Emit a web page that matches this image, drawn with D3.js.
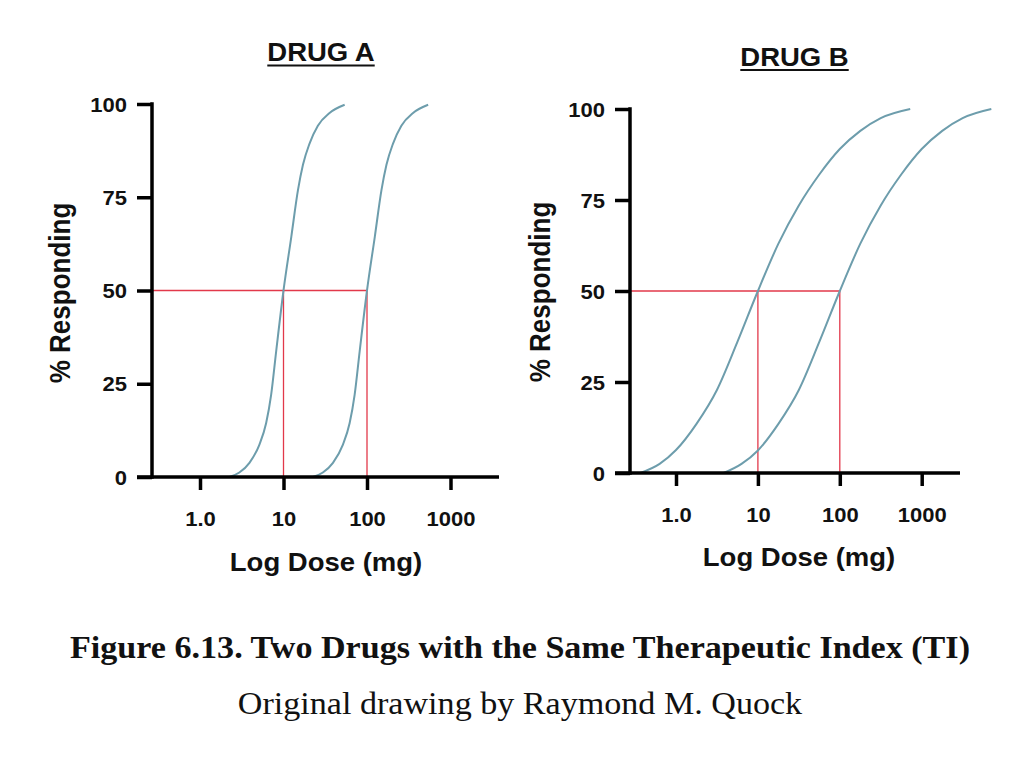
<!DOCTYPE html>
<html><head><meta charset="utf-8">
<script src="https://cdn.jsdelivr.net/npm/d3@7/dist/d3.min.js"></script>
<style>
html,body{margin:0;padding:0;background:#fff;}
svg{display:block;}
</style></head>
<body>
<svg id="chart" width="1024" height="757"></svg>
<script>
// ---------- data ----------
const doseTicks = [1, 10, 100, 1000];
const doseTickLabels = ["1.0", "10", "100", "1000"];
const pctTicks = [0, 25, 50, 75, 100];
const pctTickLabels = ["0", "25", "50", "75", "100"];
const chartTitles = ["DRUG A", "DRUG B"];
const xAxisTitle = "Log Dose (mg)";
const yAxisTitle = "% Responding";
const figureTitle = "Figure 6.13. Two Drugs with the Same Therapeutic Index (TI)";
const figureCredit = "Original drawing by Raymond M. Quock";
const ed50Doses = [10, 100];
const refPct = 50;

// Drug A: steep curves (dose in mg, % responding)
const drugA1Dose = [2.25, 2.96, 3.91, 5.15, 6.19, 7.11, 8.17, 10, 12.4, 14.9, 17.1, 20.5, 25.8, 35.6, 54.0];
const drugA1Pct  = [0, 1.2, 3.8, 8.7, 14.4, 22, 33.7, 50, 64.4, 76.9, 83.7, 89.4, 94.2, 97.6, 99.8];
const drugA2Dose = [22.5, 29.6, 39.1, 51.5, 61.9, 71.1, 81.7, 100, 124, 149, 171, 205, 258, 356, 540];
const drugA2Pct  = [0, 1.2, 3.8, 8.7, 14.4, 22, 33.7, 50, 64.4, 76.9, 83.7, 89.4, 94.2, 97.6, 99.8];
// Drug B: shallow curves
const drugB1Dose = [0.367, 0.631, 1.0, 1.78, 3.16, 5.62, 10, 17.8, 31.6, 56.2, 100, 178, 316, 724];
const drugB1Pct  = [0, 2.5, 6.3, 13.5, 22.8, 36, 50, 63, 73.5, 82, 89, 94, 97.5, 100];
const drugB2Dose = [3.81, 6.31, 10, 17.8, 31.6, 56.2, 100, 178, 316, 562, 1000, 1780, 3160, 7080];
const drugB2Pct  = [0, 2.5, 6.2, 13.5, 22.8, 36, 50, 63, 73.5, 82, 89, 94, 97.5, 100];

// ---------- layout ----------
const SX = 1.1; // horizontal stretch of the original artwork
const panels = [
  {title: chartTitles[0], titleX: 321, titleY: 61, axX: 152, axEnd: 499, yTop: 104, yBot: 477, x1: 200, x1000: 450.5,
   xTitleX: 326, xTitleY: 571, yTitleX: 70, yTitleY: 293,
   curves: [[drugA1Dose, drugA1Pct], [drugA2Dose, drugA2Pct]]},
  {title: chartTitles[1], titleX: 794.5, titleY: 65.5, axX: 630, axEnd: 960, yTop: 109, yBot: 473, x1: 676, x1000: 921.7,
   xTitleX: 799, xTitleY: 566, yTitleX: 550, yTitleY: 292,
   curves: [[drugB1Dose, drugB1Pct], [drugB2Dose, drugB2Pct]]}
];

const svg = d3.select("#chart");
const FONT = "'Liberation Sans', Arial, sans-serif";
const SERIF = "'Liberation Serif', 'Times New Roman', serif";
const curveColor = "#6d9dac";
const redColor = "#e2384a";

function addText(g, str, x, y, size, weight, family, anchor, extra) {
  return g.append("text")
    .attr("transform", `translate(${x},${y}) scale(${SX},1)` + (extra || ""))
    .attr("text-anchor", anchor || "middle")
    .style("font-family", family).style("font-size", size + "px").style("font-weight", weight)
    .attr("fill", "#111")
    .text(str);
}

panels.forEach(p => {
  const g = svg.append("g");
  const x = d3.scaleLog().domain([1, 1000]).range([p.x1, p.x1000]);
  const y = d3.scaleLinear().domain([0, 100]).range([p.yBot, p.yTop]);

  // title
  const t = addText(g, p.title, p.titleX, p.titleY, 25, "bold", FONT);
  const bb = t.node().getBBox();
  const w = bb.width * SX;
  g.append("line").attr("x1", p.titleX - w / 2).attr("x2", p.titleX + w / 2)
    .attr("y1", p.titleY + 4.5).attr("y2", p.titleY + 4.5)
    .attr("stroke", "#111").attr("stroke-width", 2.2);

  // red reference lines
  g.append("line").attr("x1", p.axX).attr("x2", x(ed50Doses[1]))
    .attr("y1", y(refPct)).attr("y2", y(refPct))
    .attr("stroke", redColor).attr("stroke-width", 1.3);
  ed50Doses.forEach(d => {
    g.append("line").attr("x1", x(d)).attr("x2", x(d))
      .attr("y1", y(refPct)).attr("y2", y(0))
      .attr("stroke", redColor).attr("stroke-width", 1.3);
  });

  // curves
  const line = d3.line().x(d => x(d[0])).y(d => y(d[1])).curve(d3.curveMonotoneX);
  p.curves.forEach(([doses, pcts]) => {
    const pts = doses.map((d, i) => [d, pcts[i]]);
    g.append("path").attr("d", line(pts)).attr("fill", "none")
      .attr("stroke", curveColor).attr("stroke-width", 2);
  });

  // x axis
  const xa = g.append("g").attr("transform", `translate(0,${p.yBot})`)
    .call(d3.axisBottom(x).tickValues(doseTicks).tickSize(13).tickSizeOuter(0)
      .tickFormat((d, i) => doseTickLabels[i]));
  xa.select(".domain").remove();
  xa.selectAll(".tick line").attr("stroke", "#000").attr("stroke-width", 3.5);
  xa.selectAll(".tick text").attr("y", 0).attr("dy", 0)
    .attr("transform", `translate(0,49) scale(${SX},1)`)
    .attr("fill", "#111").style("font-family", FONT).style("font-size", "20px").style("font-weight", "bold");
  g.append("line").attr("x1", p.axX - 15).attr("x2", p.axEnd)
    .attr("y1", p.yBot).attr("y2", p.yBot).attr("stroke", "#000").attr("stroke-width", 3.5);

  // y axis
  const ya = g.append("g").attr("transform", `translate(${p.axX},0)`)
    .call(d3.axisLeft(y).tickValues(pctTicks).tickSize(15).tickSizeOuter(0)
      .tickFormat((d, i) => pctTickLabels[i]));
  ya.select(".domain").remove();
  ya.selectAll(".tick line").attr("stroke", "#000").attr("stroke-width", 3.5);
  ya.selectAll(".tick text").attr("x", 0).attr("dy", "0.36em")
    .attr("transform", `translate(-25,0) scale(${SX},1)`)
    .attr("fill", "#111").style("font-family", FONT).style("font-size", "20px").style("font-weight", "bold");
  g.append("line").attr("x1", p.axX).attr("x2", p.axX)
    .attr("y1", p.yTop - 1.75).attr("y2", p.yBot + 1.75).attr("stroke", "#000").attr("stroke-width", 3.5);

  // axis titles
  addText(g, xAxisTitle, p.xTitleX, p.xTitleY, 25, "bold", FONT);
  addText(g, yAxisTitle, p.yTitleX, p.yTitleY, 26, "bold", FONT, "middle", " rotate(-90)");
});

// footer
addText(svg, figureTitle, 520, 658, 31, "bold", SERIF);
addText(svg, figureCredit, 520, 714, 31, "normal", SERIF);
</script>
</body></html>
